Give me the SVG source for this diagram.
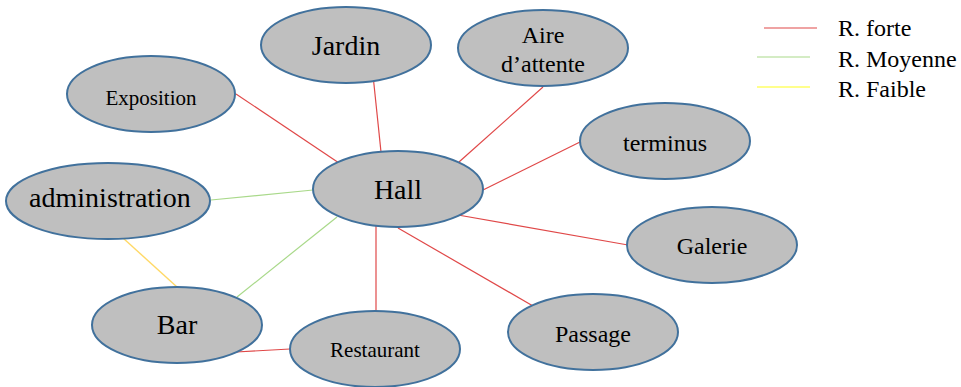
<svg xmlns="http://www.w3.org/2000/svg" width="961" height="387" viewBox="0 0 961 387">
<style>
.n ellipse{fill:#BFBFBF;stroke:#41719C;stroke-width:2}
.n text{font-family:"Liberation Serif","Times New Roman",serif;fill:#000;text-anchor:middle}
.r{stroke:#E04848;stroke-width:1.2;fill:none}
.g{stroke:#A9D98A;stroke-width:1.2;fill:none}
.y{stroke:#FFD966;stroke-width:1.4;fill:none}
.lg text{font-family:"Liberation Serif","Times New Roman",serif;font-size:24px;fill:#000}
</style>
<rect width="961" height="387" fill="#fff"/>
<g id="connectors">
<line class="r" x1="236" y1="94" x2="339" y2="163"/>
<line class="r" x1="373" y1="75" x2="381" y2="152"/>
<line class="r" x1="543" y1="87" x2="459" y2="162"/>
<line class="r" x1="580" y1="142" x2="483" y2="190"/>
<line class="r" x1="628" y1="245" x2="458" y2="215"/>
<line class="r" x1="533" y1="306" x2="398" y2="228"/>
<line class="r" x1="376" y1="222" x2="376" y2="311"/>
<line class="r" x1="236" y1="352" x2="290" y2="349"/>
<line class="g" x1="211" y1="200" x2="313" y2="190"/>
<line class="g" x1="337" y1="217" x2="237" y2="297"/>
<line class="y" x1="123" y1="238" x2="177" y2="287"/>
</g>
<g id="node-jardin" class="n"><ellipse cx="346" cy="45" rx="85" ry="38"/><text x="346" y="55" font-size="28">Jardin</text></g>
<g id="node-exposition" class="n"><ellipse cx="151" cy="94" rx="84" ry="38"/><text x="151" y="105" font-size="21">Exposition</text></g>
<g id="node-aire" class="n"><ellipse cx="543" cy="48" rx="85" ry="38"/><text x="543" y="43" font-size="24">Aire</text><text x="543" y="72" font-size="24">d’attente</text></g>
<g id="node-terminus" class="n"><ellipse cx="665" cy="141" rx="85" ry="38"/><text x="665" y="151" font-size="24">terminus</text></g>
<g id="node-hall" class="n"><ellipse cx="398" cy="189" rx="85" ry="38"/><text x="398" y="199" font-size="28">Hall</text></g>
<g id="node-administration" class="n"><ellipse cx="108" cy="201" rx="102" ry="38"/><text x="110" y="207" font-size="28">administration</text></g>
<g id="node-galerie" class="n"><ellipse cx="712" cy="245" rx="85" ry="38"/><text x="712" y="254" font-size="24">Galerie</text></g>
<g id="node-passage" class="n"><ellipse cx="593" cy="332" rx="85" ry="38"/><text x="593" y="342" font-size="24">Passage</text></g>
<g id="node-bar" class="n"><ellipse cx="177" cy="325" rx="85" ry="38"/><text x="177" y="334" font-size="28">Bar</text></g>
<g id="node-restaurant" class="n"><ellipse cx="375" cy="349" rx="85" ry="38"/><text x="375" y="357" font-size="21">Restaurant</text></g>
<g id="legend" class="lg">
<line class="r" x1="764" y1="28" x2="817" y2="28"/>
<line class="g" x1="757" y1="57" x2="810" y2="57"/>
<line stroke="#FFFF66" stroke-width="1.4" x1="757" y1="87" x2="810" y2="87"/>
<text x="838" y="36">R. forte</text>
<text x="838" y="67">R. Moyenne</text>
<text x="838" y="97">R. Faible</text>
</g>
</svg>
